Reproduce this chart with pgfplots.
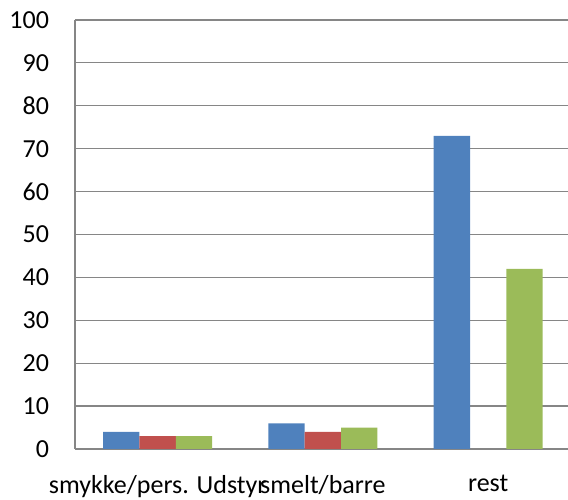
\documentclass[border=0pt]{standalone}
\usepackage{pgfplots}
\pgfplotsset{compat=1.18}
\usepackage{fontspec}
\setmainfont{Carlito}
\definecolor{xblue}{HTML}{4F81BD}
\definecolor{xred}{HTML}{C0504D}
\definecolor{xgreen}{HTML}{9BBB59}
\definecolor{xgrid}{HTML}{868686}
\begin{document}
\begin{tikzpicture}
\path[use as bounding box] (0,0) rectangle (426pt,375pt);
\begin{axis}[
  at={(56.25pt,38.25pt)}, anchor=south west,
  scale only axis, width=369.75pt, height=321.75pt,
  ybar, bar width=0.22,
  xmin=-0.5, xmax=2.483, ymin=0, ymax=100,
  ytick={0,10,...,100},
  xtick={0,1,2},
  xticklabels={smykke/pers. Udstyr, smelt/barre, rest},
  ymajorgrids, grid style={xgrid, line width=0.9pt},
  axis x line*=bottom, axis y line*=left,
  axis line style={xgrid, line width=0.9pt, -},
  major tick length=0pt,
  tick style={draw=none},
  ticklabel style={font=\fontsize{19.5}{23}\selectfont, text=black},
  /pgf/number format/assume math mode=true,
  yticklabel style={xshift=-16pt},
  xticklabel style={yshift=-16pt},
  clip=false,
]
\addplot[fill=xblue, draw=none, bar shift=-0.22] coordinates {(0,4) (1,6) (2,73)};
\addplot[fill=xred, draw=none, bar shift=0] coordinates {(0,3) (1,4)};
\addplot[fill=xgreen, draw=none, bar shift=0.22] coordinates {(0,3) (1,5) (2,42)};
\end{axis}
\end{tikzpicture}
\end{document}
